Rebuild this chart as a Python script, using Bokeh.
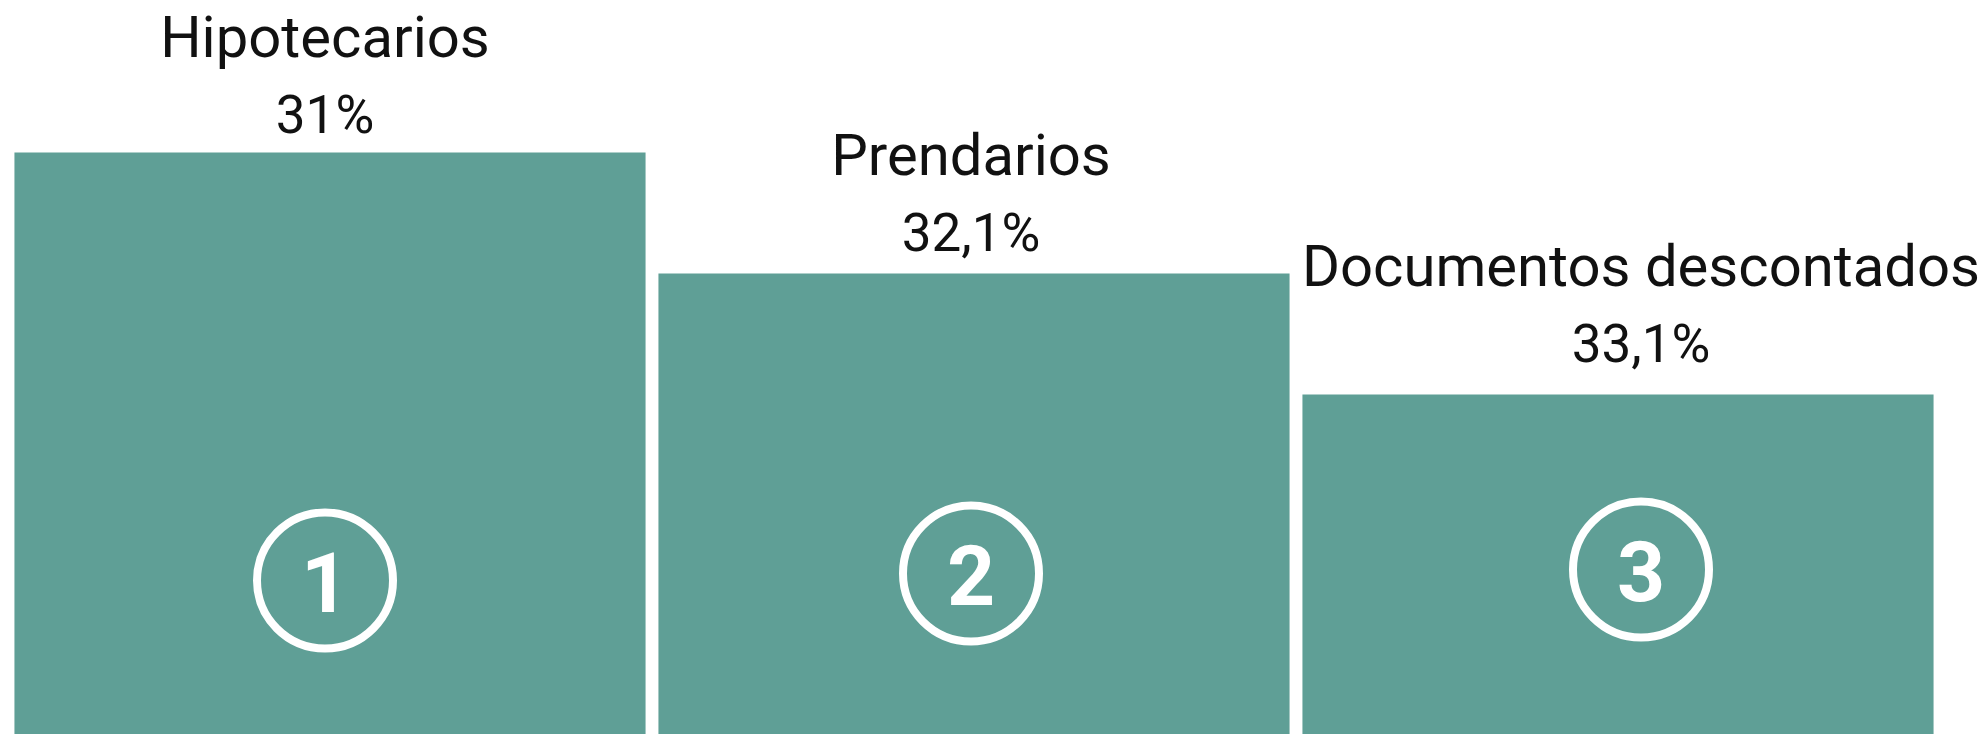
from bokeh.plotting import figure
from bokeh.models import ColumnDataSource, Range1d
from bokeh.core.properties import value
from bokeh.embed import file_html
from bokeh.resources import INLINE

# ---- data ----
categories = ["Hipotecarios", "Prendarios", "Documentos descontados"]
shares = [31.0, 32.1, 33.1]          # %
ranks = [1, 2, 3]                    # podium position

# ---- derived ----
share_labels = [f"{v:g}".replace(".", ",") + "%" for v in shares]
rank_labels = [str(r) for r in ranks]
levels = [len(ranks) + 1 - r for r in ranks]     # podium height 3,2,1
xs = list(range(len(categories)))

# ---- style ----
BAR_COLOR = "#5f9f96"
TEXT_COLOR = "#111111"
FONT = "Roboto"
W, H = 1985, 734
PX_X = 644.0                                      # px per x unit
X0 = -0.5 - 7.5 / PX_X
PX_Y = 121.0                                      # px per podium level
Y_TOP = 3 + 152 / PX_Y
Y_BOT = Y_TOP - H / PX_Y

NAME_SIZE, PCT_SIZE, RANK_SIZE = 58, 53, 84
BASE_FIX = 0.34                  # renderer baseline compensation (em)

group_dx = [-5, -3, 23]          # label/badge horizontal nudge (px)
pct_dy = [-19, -22, -32]         # percentage baseline above bar top (px)
NAME_GAP = 77                    # name baseline above percentage baseline (px)
BADGE_Y = Y_TOP - 574 / PX_Y
badge_dy = [6, -1, -5]           # px, positive = down

src = ColumnDataSource(dict(
    x=xs,
    level=levels,
    name=categories,
    pct=share_labels,
    rank=rank_labels,
    dx=group_dx,
    pct_dy=[d - BASE_FIX * PCT_SIZE for d in pct_dy],
    name_dy=[d - NAME_GAP - BASE_FIX * NAME_SIZE for d in pct_dy],
    bx=[x + d / PX_X for x, d in zip(xs, group_dx)],
    by=[BADGE_Y - d / PX_Y for d in badge_dy],
))

p = figure(width=W, height=H, output_backend="svg", toolbar_location=None,
           x_range=Range1d(X0, X0 + W / PX_X),
           y_range=Range1d(Y_BOT, Y_TOP),
           min_border_left=0, min_border_right=0,
           min_border_top=0, min_border_bottom=0)
p.axis.visible = False
p.grid.visible = False
p.outline_line_color = None
p.background_fill_color = "white"
p.border_fill_color = "white"

p.vbar(x="x", top="level", bottom=Y_BOT - 1, width=0.98, source=src,
       fill_color=BAR_COLOR, line_color=None)

p.scatter(x="bx", y="by", source=src, marker="circle", size=136,
          fill_color=None, line_color="white", line_width=8)

p.text(x="x", y="by", text="rank", source=src, x_offset="dx",
       y_offset=30 - BASE_FIX * RANK_SIZE,
       text_font=value(FONT), text_font_size=f"{RANK_SIZE}px", text_color="white",
       text_font_style="bold", text_align="center", text_baseline="alphabetic")

p.text(x="x", y="level", text="pct", source=src, x_offset="dx", y_offset="pct_dy",
       text_font=value(FONT), text_font_size=f"{PCT_SIZE}px", text_color=TEXT_COLOR,
       text_align="center", text_baseline="alphabetic")

p.text(x="x", y="level", text="name", source=src, x_offset="dx", y_offset="name_dy",
       text_font=value(FONT), text_font_size=f"{NAME_SIZE}px", text_color=TEXT_COLOR,
       text_align="center", text_baseline="alphabetic")

open("out.html", "w").write(file_html(p, INLINE))
